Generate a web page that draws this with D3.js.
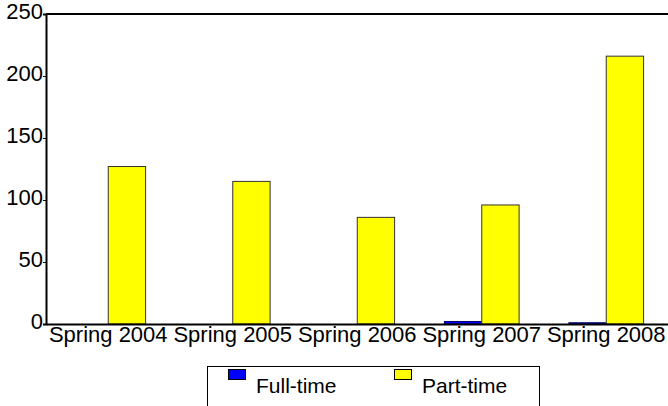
<!DOCTYPE html>
<html>
<head>
<meta charset="utf-8">
<script src="https://cdn.jsdelivr.net/npm/d3@7"></script>
<style>
    body { margin: 0; background: #fff; }
    svg text { font-family: "Liberation Sans", Arial, sans-serif; fill: #000; }
</style>
</head>
<body>
<div id="chart"></div>
<script>
var categories = ['Spring 2004', 'Spring 2005', 'Spring 2006', 'Spring 2007', 'Spring 2008'];
var seriesNames = ['Full-time', 'Part-time'];
var seriesColors = ['#0000ff', '#ffff00'];
var fullTime = [0, 0, 0, 2, 1];
var partTime = [127, 115, 86, 96, 216];
var yTicks = [0, 50, 100, 150, 200, 250];

var width = 668, height = 406;
var margin = {top: 14, right: 0, bottom: 82, left: 46};

var svg = d3.select('#chart')
    .append('svg')
    .attr('width', width)
    .attr('height', height);

var x = d3.scaleBand()
    .domain(categories)
    .range([margin.left, width + 0.5])
    .paddingInner(0)
    .paddingOuter(0);

var inner = d3.scaleBand()
    .domain(seriesNames)
    .range([x.bandwidth() * 0.2, x.bandwidth() * 0.8]);

var y = d3.scaleLinear()
    .domain([0, 250])
    .range([height - margin.bottom, margin.top]);

var rows = categories.map(function (c, i) {
    return {cat: c, values: [fullTime[i], partTime[i]]};
});

var groups = svg.append('g')
    .selectAll('g')
    .data(rows)
    .enter().append('g')
    .attr('transform', function (d) { return 'translate(' + x(d.cat) + ',0)'; });

groups.selectAll('rect')
    .data(function (d) {
        return d.values.map(function (v, j) { return {name: seriesNames[j], value: v, color: seriesColors[j]}; });
    })
    .enter().append('rect')
    .filter(function (d) { return d.value > 0; })
    .attr('x', function (d) { return inner(d.name); })
    .attr('width', inner.bandwidth())
    .attr('y', function (d) { return y(d.value); })
    .attr('height', function (d) { return y(0) - y(d.value); })
    .attr('fill', function (d) { return d.color; })
    .attr('stroke', function (d) { return d.name === 'Full-time' ? '#000066' : '#333'; })
    .attr('stroke-width', 1);

// frame: top line, left axis, baseline
svg.append('line')
    .attr('x1', margin.left).attr('x2', width)
    .attr('y1', y(250)).attr('y2', y(250))
    .attr('stroke', '#000').attr('stroke-width', 2);

var yAxis = d3.axisLeft(y)
    .tickValues(yTicks)
    .tickSizeOuter(0)
    .tickSize(3)
    .tickPadding(0);

var yAxisG = svg.append('g')
    .attr('transform', 'translate(' + margin.left + ',0)')
    .call(yAxis);
yAxisG.select('.domain').attr('stroke-width', 2);
yAxisG.selectAll('text')
    .attr('font-size', 22)
    .attr('font-family', '"Liberation Sans", Arial, sans-serif')
    .attr('dy', '0.22em');

var xAxis = d3.axisBottom(x)
    .tickSize(0)
    .tickSizeOuter(0)
    .tickPadding(3);

var xAxisG = svg.append('g')
    .attr('transform', 'translate(0,' + y(0) + ')')
    .call(xAxis);
xAxisG.select('.domain').attr('stroke-width', 2);
xAxisG.selectAll('text')
    .attr('font-size', 22)
    .attr('font-family', '"Liberation Sans", Arial, sans-serif')
    .attr('dy', '0.7em');

// legend
var legend = svg.append('g');
legend.append('rect')
    .attr('x', 207.5).attr('y', 366.5)
    .attr('width', 332).attr('height', 50)
    .attr('fill', '#fff').attr('stroke', '#000').attr('stroke-width', 1);

var legendX = [228, 394];
seriesNames.forEach(function (name, i) {
    legend.append('rect')
        .attr('x', legendX[i] + 0.5).attr('y', 369.5)
        .attr('width', 17).attr('height', 10)
        .attr('fill', seriesColors[i])
        .attr('stroke', '#000').attr('stroke-width', 1);
    legend.append('text')
        .attr('x', legendX[i] + 28)
        .attr('y', 393)
        .attr('font-size', 21)
        .text(name);
});
</script>
</body>
</html>
